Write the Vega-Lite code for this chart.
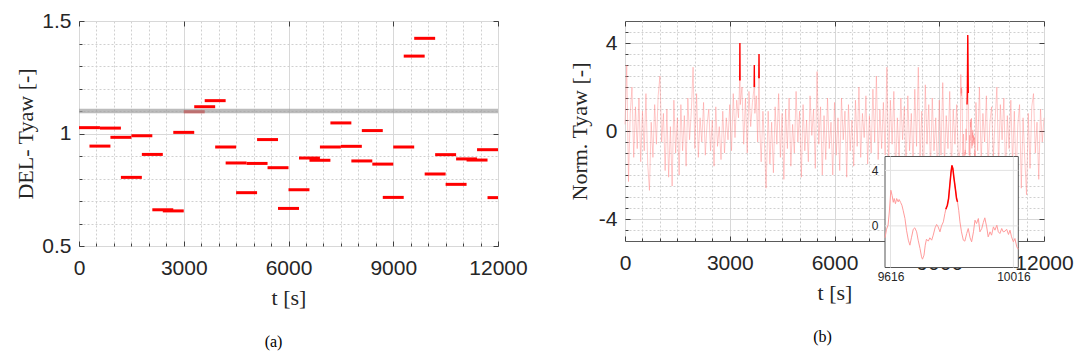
{
"$schema": "https://vega.github.io/schema/vega-lite/v6.json",
"padding": {"left": 14, "top": 9, "right": 0, "bottom": 0},
"background": "white",
"bounds": "flush",
"spacing": 127,
"config": {
  "view": {"stroke": "#5a5a5a", "strokeWidth": 1},
  "axis": {"labelFont": "Liberation Sans", "labelColor": "#262626", "titleFont": "Liberation Serif", "titleColor": "#262626", "titleFontWeight": "normal", "labelFlush": false, "labelOverlap": false, "tickColor": "#404040"},
  "title": {"font": "Liberation Serif", "fontSize": 16, "fontWeight": "normal", "color": "#000000"}
},
"datasets": {
  "seg": [
    {"t0":0,"t1":600,"v":1.026},{"t0":300,"t1":900,"v":0.944},{"t0":600,"t1":1200,"v":1.024},{"t0":900,"t1":1500,"v":0.983},
    {"t0":1200,"t1":1800,"v":0.805},{"t0":1500,"t1":2100,"v":0.990},{"t0":1800,"t1":2400,"v":0.907},{"t0":2100,"t1":2700,"v":0.661},
    {"t0":2400,"t1":3000,"v":0.656},{"t0":2700,"t1":3300,"v":1.005},{"t0":3000,"t1":3600,"v":1.097},{"t0":3300,"t1":3900,"v":1.119},
    {"t0":3600,"t1":4200,"v":1.146},{"t0":3900,"t1":4500,"v":0.940},{"t0":4200,"t1":4800,"v":0.869},{"t0":4500,"t1":5100,"v":0.737},
    {"t0":4800,"t1":5400,"v":0.867},{"t0":5100,"t1":5700,"v":0.973},{"t0":5400,"t1":6000,"v":0.848},{"t0":5700,"t1":6300,"v":0.667},
    {"t0":6000,"t1":6600,"v":0.750},{"t0":6300,"t1":6900,"v":0.891},{"t0":6600,"t1":7200,"v":0.881},{"t0":6900,"t1":7500,"v":0.940},
    {"t0":7200,"t1":7800,"v":1.047},{"t0":7500,"t1":8100,"v":0.943},{"t0":7800,"t1":8400,"v":0.878},{"t0":8100,"t1":8700,"v":1.013},
    {"t0":8400,"t1":9000,"v":0.864},{"t0":8700,"t1":9300,"v":0.716},{"t0":9000,"t1":9600,"v":0.940},{"t0":9300,"t1":9900,"v":1.344},
    {"t0":9600,"t1":10200,"v":1.423},{"t0":9900,"t1":10500,"v":0.820},{"t0":10200,"t1":10800,"v":0.906},{"t0":10500,"t1":11100,"v":0.774},
    {"t0":10800,"t1":11400,"v":0.887},{"t0":11100,"t1":11700,"v":0.882},{"t0":11400,"t1":12000,"v":0.928},{"t0":11700,"t1":12000,"v":0.715}
  ],
  "sig": [
    {"t":0,"v":0.3},{"t":50,"v":3.0},{"t":100,"v":-2.3},{"t":150,"v":0.8},{"t":200,"v":2.0},{"t":250,"v":-1.2},{"t":300,"v":1.1},{"t":350,"v":-0.8},{"t":400,"v":1.5},{"t":450,"v":-1.4},
    {"t":500,"v":0.9},{"t":550,"v":-0.9},{"t":600,"v":1.7},{"t":650,"v":-1.5},{"t":700,"v":-2.7},{"t":750,"v":0.4},{"t":800,"v":-1.2},{"t":850,"v":1.2},{"t":900,"v":-0.6},{"t":950,"v":1.6},
    {"t":1000,"v":2.5},{"t":1050,"v":-0.5},{"t":1100,"v":0.8},{"t":1150,"v":-1.8},{"t":1200,"v":1.0},{"t":1250,"v":-2.1},{"t":1300,"v":0.2},{"t":1350,"v":-2.5},{"t":1400,"v":1.4},{"t":1450,"v":-1.0},
    {"t":1500,"v":0.6},{"t":1550,"v":-2.0},{"t":1600,"v":1.2},{"t":1650,"v":-0.9},{"t":1700,"v":0.7},{"t":1750,"v":-1.6},{"t":1800,"v":1.5},{"t":1850,"v":-0.4},{"t":1900,"v":0.9},{"t":1950,"v":2.9},
    {"t":2000,"v":-0.8},{"t":2050,"v":1.7},{"t":2100,"v":-1.2},{"t":2150,"v":0.6},{"t":2200,"v":-0.5},{"t":2250,"v":1.3},{"t":2300,"v":-1.1},{"t":2350,"v":0.3},{"t":2400,"v":1.0},{"t":2450,"v":-0.9},
    {"t":2500,"v":0.5},{"t":2550,"v":-1.6},{"t":2600,"v":1.1},{"t":2650,"v":-0.7},{"t":2700,"v":0.2},{"t":2750,"v":-1.3},{"t":2800,"v":0.9},{"t":2850,"v":-1.0},{"t":2900,"v":0.6},{"t":2950,"v":-0.4},
    {"t":3000,"v":1.2},{"t":3050,"v":-0.9},{"t":3100,"v":1.7},{"t":3150,"v":-0.3},{"t":3200,"v":1.4},{"t":3250,"v":0.6},{"t":3284,"v":2.3,"ev":"a"},{"t":3290,"v":4.0,"ev":"a"},{"t":3296,"v":2.3,"ev":"a"},{"t":3302,"v":1.2},{"t":3350,"v":2.0},{"t":3400,"v":-0.6},{"t":3450,"v":1.5},
    {"t":3500,"v":-1.0},{"t":3550,"v":1.8},{"t":3600,"v":0.2},{"t":3650,"v":1.3},{"t":3698,"v":2.0,"ev":"b"},{"t":3704,"v":3.0,"ev":"b"},{"t":3710,"v":2.0,"ev":"b"},{"t":3720,"v":0.8},{"t":3760,"v":1.6},{"t":3800,"v":-0.5},{"t":3832,"v":2.4,"ev":"c"},{"t":3838,"v":3.5,"ev":"c"},{"t":3844,"v":2.4,"ev":"c"},{"t":3860,"v":0.1},{"t":3900,"v":-1.4},{"t":3950,"v":0.9},
    {"t":4000,"v":-0.8},{"t":4040,"v":-2.6},{"t":4100,"v":0.9},{"t":4150,"v":-1.5},{"t":4200,"v":0.4},{"t":4250,"v":-1.9},{"t":4300,"v":1.1},{"t":4350,"v":-0.6},{"t":4400,"v":1.7},{"t":4450,"v":-1.2},
    {"t":4500,"v":0.8},{"t":4550,"v":-2.2},{"t":4600,"v":1.0},{"t":4650,"v":-0.8},{"t":4700,"v":1.5},{"t":4750,"v":-1.6},{"t":4800,"v":0.3},{"t":4850,"v":-1.0},{"t":4900,"v":1.8},{"t":4950,"v":-0.5},
    {"t":5000,"v":0.9},{"t":5050,"v":-2.1},{"t":5100,"v":1.2},{"t":5150,"v":-0.9},{"t":5200,"v":0.5},{"t":5250,"v":-1.4},{"t":5300,"v":1.6},{"t":5350,"v":-0.2},{"t":5400,"v":1.0},{"t":5450,"v":-1.7},
    {"t":5500,"v":2.7},{"t":5550,"v":-0.6},{"t":5600,"v":1.1},{"t":5650,"v":-2.0},{"t":5700,"v":0.7},{"t":5750,"v":-1.3},{"t":5800,"v":1.5},{"t":5850,"v":-0.8},{"t":5900,"v":0.4},{"t":5950,"v":-2.0},
    {"t":6000,"v":1.3},{"t":6050,"v":-1.1},{"t":6100,"v":0.6},{"t":6150,"v":-1.8},{"t":6200,"v":1.5},{"t":6250,"v":-0.4},{"t":6300,"v":0.9},{"t":6350,"v":-2.1},{"t":6400,"v":1.2},{"t":6450,"v":-0.9},
    {"t":6500,"v":0.5},{"t":6550,"v":-1.6},{"t":6600,"v":1.4},{"t":6650,"v":-0.7},{"t":6700,"v":2.0},{"t":6750,"v":-1.2},{"t":6800,"v":0.8},{"t":6850,"v":-0.3},{"t":6900,"v":1.6},{"t":6950,"v":-1.5},
    {"t":7000,"v":0.7},{"t":7050,"v":-1.0},{"t":7100,"v":1.9},{"t":7150,"v":-0.5},{"t":7200,"v":2.5},{"t":7250,"v":-1.3},{"t":7300,"v":1.0},{"t":7350,"v":-0.8},{"t":7400,"v":1.3},{"t":7450,"v":-1.1},
    {"t":7500,"v":2.9},{"t":7550,"v":-1.6},{"t":7600,"v":1.4},{"t":7650,"v":-0.6},{"t":7700,"v":1.8},{"t":7750,"v":-2.0},{"t":7800,"v":0.6},{"t":7850,"v":-1.2},{"t":7900,"v":1.5},{"t":7950,"v":-0.4},
    {"t":8000,"v":1.1},{"t":8050,"v":-1.8},{"t":8100,"v":1.6},{"t":8150,"v":-0.9},{"t":8200,"v":0.8},{"t":8250,"v":-1.5},{"t":8300,"v":1.9},{"t":8350,"v":-0.7},{"t":8400,"v":2.9},{"t":8450,"v":-1.3},
    {"t":8500,"v":0.9},{"t":8550,"v":-2.2},{"t":8600,"v":2.1},{"t":8650,"v":-0.6},{"t":8700,"v":1.2},{"t":8750,"v":-1.7},{"t":8800,"v":1.5},{"t":8850,"v":-0.9},{"t":8900,"v":0.6},{"t":8950,"v":-2.0},
    {"t":9000,"v":1.4},{"t":9050,"v":-1.1},{"t":9100,"v":2.2},{"t":9150,"v":-1.5},{"t":9200,"v":0.7},{"t":9250,"v":-0.8},{"t":9300,"v":1.8},{"t":9350,"v":-1.9},{"t":9400,"v":1.0},{"t":9450,"v":-0.6},
    {"t":9500,"v":1.2},{"t":9550,"v":-1.4},
    {"t":9598,"v":-0.86},{"t":9603,"v":-0.24},{"t":9608,"v":0.05},{"t":9612,"v":1.0},{"t":9617,"v":2.57},{"t":9621,"v":2.2},{"t":9625,"v":1.7},{"t":9628,"v":1.97},{"t":9632,"v":1.6},{"t":9636,"v":1.97},
    {"t":9641,"v":1.73},{"t":9644,"v":1.9},{"t":9649,"v":1.68},{"t":9653,"v":1.49},{"t":9657,"v":1.13},{"t":9663,"v":0.53},{"t":9668,"v":-0.31},{"t":9674,"v":-1.03},{"t":9679,"v":-1.39},{"t":9684,"v":-0.86},
    {"t":9690,"v":-0.24},{"t":9695,"v":-0.14},{"t":9701,"v":-0.43},{"t":9706,"v":-1.03},{"t":9712,"v":-1.63},{"t":9717,"v":-2.23},{"t":9720,"v":-2.4},{"t":9725,"v":-2.11},{"t":9729,"v":-1.39},{"t":9733,"v":-0.96},
    {"t":9739,"v":-1.10},{"t":9744,"v":-0.86},{"t":9750,"v":-1.03},{"t":9755,"v":-0.67},{"t":9761,"v":-0.14},{"t":9766,"v":0.10},{"t":9771,"v":-0.07},{"t":9777,"v":-0.43},{"t":9782,"v":0.0},{"t":9788,"v":0.29},
    {"t":9793,"v":0.89},{"t":9796,"v":1.2,"ev":"d"},{"t":9801,"v":1.49,"ev":"d"},{"t":9805,"v":1.97,"ev":"d"},{"t":9809,"v":2.93,"ev":"d"},{"t":9813,"v":3.88,"ev":"d"},{"t":9816,"v":4.36,"ev":"d"},{"t":9819,"v":4.12,"ev":"d"},{"t":9822,"v":3.53,"ev":"d"},{"t":9827,"v":2.69,"ev":"d"},
    {"t":9831,"v":1.97,"ev":"d"},{"t":9834,"v":1.73,"ev":"d"},{"t":9838,"v":1.13},{"t":9842,"v":0.29},{"t":9847,"v":-0.43},{"t":9853,"v":-1.03},{"t":9858,"v":-1.10},{"t":9864,"v":-0.55},{"t":9869,"v":-0.19},{"t":9875,"v":-0.86},
    {"t":9880,"v":-1.15},{"t":9886,"v":-0.43},{"t":9891,"v":0.41},{"t":9896,"v":0.17},{"t":9902,"v":0.53},{"t":9907,"v":-0.43},{"t":9913,"v":-0.19},{"t":9918,"v":0.24},{"t":9923,"v":0.58},{"t":9929,"v":-0.07},
    {"t":9934,"v":-0.79},{"t":9940,"v":-0.43},{"t":9945,"v":-0.67},{"t":9951,"v":-0.07},{"t":9956,"v":-0.31},{"t":9962,"v":0.05},{"t":9967,"v":-0.43},{"t":9972,"v":-0.55},{"t":9978,"v":-0.19},{"t":9983,"v":-0.43},
    {"t":9989,"v":-0.38},{"t":9994,"v":-0.24},{"t":10000,"v":-0.62},{"t":10005,"v":-0.31},{"t":10010,"v":-0.79},{"t":10016,"v":-1.15},{"t":10021,"v":-0.91},{"t":10027,"v":-1.51},{"t":10032,"v":-1.68},
    {"t":10050,"v":1.3},{"t":10100,"v":-0.9},{"t":10150,"v":2.0},{"t":10200,"v":-1.4},{"t":10250,"v":0.8},{"t":10300,"v":-0.5},{"t":10350,"v":1.6},{"t":10400,"v":-1.8},{"t":10450,"v":0.4},
    {"t":10500,"v":1.1},{"t":10550,"v":-1.2},{"t":10600,"v":0.5},{"t":10650,"v":2.0},{"t":10700,"v":-1.6},{"t":10750,"v":1.2},{"t":10800,"v":-0.4},{"t":10850,"v":1.5},{"t":10900,"v":-2.0},{"t":10950,"v":0.7},
    {"t":11000,"v":-0.8},{"t":11050,"v":1.4},{"t":11100,"v":-1.5},{"t":11150,"v":0.9},{"t":11200,"v":-2.2},{"t":11250,"v":0.3},{"t":11300,"v":1.2},{"t":11350,"v":-2.6},{"t":11400,"v":0.6},{"t":11450,"v":-1.3},
    {"t":11500,"v":-2.9},{"t":11550,"v":0.8},{"t":11600,"v":-1.7},{"t":11650,"v":1.1},{"t":11700,"v":1.7},{"t":11750,"v":-1.0},{"t":11800,"v":0.4},{"t":11850,"v":-2.2},{"t":11900,"v":1.0},{"t":11950,"v":-0.5},{"t":12000,"v":0.6}
  ]
},
"hconcat": [
  {
    "width": 419, "height": 225,
    "title": {"text": "(a)", "orient": "bottom", "offset": 26, "dx": -15},
    "data": {"name": "seg"},
    "layer": [
      {"mark": {"type": "rule", "opacity": 0},
       "encoding": {
         "x": {"field": "t0", "type": "quantitative", "scale": {"domain": [0, 12000], "nice": false, "zero": false},
               "axis": {"orient": "bottom", "values": [500,1000,1500,2000,2500,3500,4000,4500,5000,5500,6500,7000,7500,8000,8500,9500,10000,10500,11000,11500], "grid": true, "gridDash": [2,2], "gridColor": "#d0d0d0", "labels": false, "ticks": true, "tickSize": -3, "domain": false, "title": null}},
         "x2": {"field": "t1"},
         "y": {"field": "v", "type": "quantitative", "scale": {"domain": [0.5, 1.5], "nice": false, "zero": false},
               "axis": {"orient": "left", "values": [0.6,0.7,0.8,0.9,1.1,1.2,1.3,1.4], "grid": true, "gridDash": [2,2], "gridColor": "#d0d0d0", "labels": false, "ticks": true, "tickSize": -3, "domain": false, "title": null}}
       }},
      {"mark": {"type": "rule", "opacity": 0},
       "encoding": {
         "x": {"field": "t0", "type": "quantitative",
               "axis": {"orient": "top", "values": [0,3000,6000,9000,12000], "grid": true, "gridColor": "#d8d8d8", "labels": false, "ticks": true, "tickSize": -5, "domain": false, "title": null}},
         "x2": {"field": "t1"},
         "y": {"field": "v", "type": "quantitative",
               "axis": {"orient": "right", "values": [0.5,1,1.5], "grid": true, "gridColor": "#d8d8d8", "labels": false, "ticks": true, "tickSize": -5, "domain": false, "title": null}}
       }},
      {"mark": {"type": "rule", "color": "#ff0000", "strokeWidth": 3},
       "encoding": {
         "x": {"field": "t0", "type": "quantitative",
               "axis": {"orient": "bottom", "values": [0,3000,6000,9000,12000], "format": "d", "grid": false, "ticks": true, "tickSize": -5, "domain": false, "labelFontSize": 21, "labelPadding": 16, "title": "t [s]", "titleFontSize": 22, "titlePadding": 9}},
         "x2": {"field": "t1"},
         "y": {"field": "v", "type": "quantitative",
               "axis": {"orient": "left", "values": [0.5,1,1.5], "labelExpr": "'' + datum.value", "grid": false, "ticks": true, "tickSize": -5, "domain": false, "labelFontSize": 21, "labelPadding": 13, "title": "DEL- Tyaw [-]", "titleFontSize": 22, "titlePadding": 4}}
       }},
      {"data": {"values": [{}]},
       "mark": {"type": "rule", "color": "#a0a0a0", "strokeWidth": 4.5, "opacity": 0.7},
       "encoding": {"y": {"datum": 1.1, "type": "quantitative", "axis": null}}}
    ],
    "resolve": {"axis": {"x": "independent", "y": "independent"}}
  },
  {
    "width": 419, "height": 220,
    "title": {"text": "(b)", "orient": "bottom", "offset": 26, "dx": -12},
    "data": {"name": "sig"},
    "layer": [
      {
        "layer": [
          {"mark": {"type": "line", "color": "#ff8080", "strokeWidth": 0.6, "opacity": 0.7},
           "encoding": {
             "x": {"field": "t", "type": "quantitative", "scale": {"domain": [0, 12000], "nice": false, "zero": false},
                   "axis": {"orient": "bottom", "values": [500,1000,1500,2000,2500,3500,4000,4500,5000,5500,6500,7000,7500,8000,8500,9500,10000,10500,11000,11500], "grid": true, "gridDash": [2,2], "gridColor": "#d0d0d0", "labels": false, "ticks": true, "tickSize": -3, "domain": false, "title": null}},
             "y": {"field": "v", "type": "quantitative", "scale": {"domain": [-5, 5], "nice": false, "zero": false},
                   "axis": {"orient": "left", "values": [-4.5,-3.5,-3,-2.5,-2,-1.5,-1,-0.5,0.5,1,1.5,2,2.5,3,3.5,4.5], "grid": true, "gridDash": [2,2], "gridColor": "#d0d0d0", "labels": false, "ticks": true, "tickSize": -3, "domain": false, "title": null}}
           }},
          {"mark": {"type": "line", "opacity": 0},
           "encoding": {
             "x": {"field": "t", "type": "quantitative",
                   "axis": {"orient": "top", "values": [0,3000,6000,9000,12000], "grid": true, "gridColor": "#d8d8d8", "labels": false, "ticks": true, "tickSize": -5, "domain": false, "title": null}},
             "y": {"field": "v", "type": "quantitative",
                   "axis": {"orient": "right", "values": [-4,0,4], "grid": true, "gridColor": "#d8d8d8", "labels": false, "ticks": true, "tickSize": -5, "domain": false, "title": null}}
           }},
          {"transform": [{"filter": "isValid(datum.ev)"}],
           "mark": {"type": "line", "color": "#ff0000", "strokeWidth": 1.3},
           "encoding": {
             "detail": {"field": "ev"},
             "x": {"field": "t", "type": "quantitative",
                   "axis": {"orient": "bottom", "values": [0,3000,6000,9000,12000], "format": "d", "grid": false, "ticks": true, "tickSize": -5, "domain": false, "labelFontSize": 21, "labelPadding": 16, "title": "t [s]", "titleFontSize": 22, "titlePadding": 9}},
             "y": {"field": "v", "type": "quantitative",
                   "axis": {"orient": "left", "values": [-4,0,4], "labelExpr": "'' + datum.value", "grid": false, "ticks": true, "tickSize": -5, "domain": false, "labelFontSize": 21, "labelPadding": 13, "title": "Norm. Tyaw [-]", "titleFontSize": 22, "titlePadding": 7}}
           }}
        ],
        "resolve": {"axis": {"x": "independent", "y": "independent"}}
      },
      {
        "layer": [
          {"data": {"values": [{}]},
           "mark": {"type": "rect", "fill": "white", "stroke": "#555555", "strokeWidth": 1},
           "encoding": {
             "x": {"datum": 9598, "type": "quantitative", "scale": {"domain": [9598, 10032], "range": [260, 393.3], "nice": false, "zero": false},
                   "axis": {"orient": "bottom", "offset": 26.5, "zindex": 1, "values": [9616, 10016], "format": "d", "grid": false, "ticks": false, "domain": false, "labelFontSize": 12, "labelPadding": 4, "title": null}},
             "x2": {"datum": 10032},
             "y": {"datum": -3, "type": "quantitative", "scale": {"domain": [-3, 5], "range": [246.5, 135.5], "nice": false, "zero": false},
                   "axis": {"orient": "left", "offset": -260, "zindex": 1, "values": [0, 4], "grid": false, "ticks": false, "domain": false, "labelFontSize": 12, "labelPadding": 7, "title": null}},
             "y2": {"datum": 5}
           }},
          {"data": {"values": [{}]},
           "mark": {"type": "rule", "color": "#e2e2e2", "strokeWidth": 1},
           "encoding": {"x": {"datum": 9598, "type": "quantitative"}, "x2": {"datum": 10032}, "y": {"datum": 0, "type": "quantitative"}}},
          {"data": {"values": [{}]},
           "mark": {"type": "rule", "color": "#e2e2e2", "strokeWidth": 1},
           "encoding": {"x": {"datum": 9598, "type": "quantitative"}, "x2": {"datum": 10032}, "y": {"datum": 4, "type": "quantitative"}}},
          {"data": {"values": [{}]},
           "mark": {"type": "rule", "color": "#e2e2e2", "strokeWidth": 1},
           "encoding": {"x": {"datum": 9616, "type": "quantitative"}, "y": {"datum": -3, "type": "quantitative"}, "y2": {"datum": 5}}},
          {"data": {"values": [{}]},
           "mark": {"type": "rule", "color": "#e2e2e2", "strokeWidth": 1},
           "encoding": {"x": {"datum": 10016, "type": "quantitative"}, "y": {"datum": -3, "type": "quantitative"}, "y2": {"datum": 5}}},
          {"transform": [{"filter": "datum.t >= 9597 && datum.t <= 10033"}],
           "mark": {"type": "line", "color": "#ff9c9c", "strokeWidth": 1},
           "encoding": {
             "x": {"field": "t", "type": "quantitative"},
             "y": {"field": "v", "type": "quantitative"}
           }},
          {"transform": [{"filter": "datum.ev == 'd'"}],
           "mark": {"type": "line", "color": "#ff0000", "strokeWidth": 1.5},
           "encoding": {
             "x": {"field": "t", "type": "quantitative"},
             "y": {"field": "v", "type": "quantitative"}
           }}
        ]
      }
    ],
    "resolve": {"scale": {"x": "independent", "y": "independent"}}
  }
]
}
